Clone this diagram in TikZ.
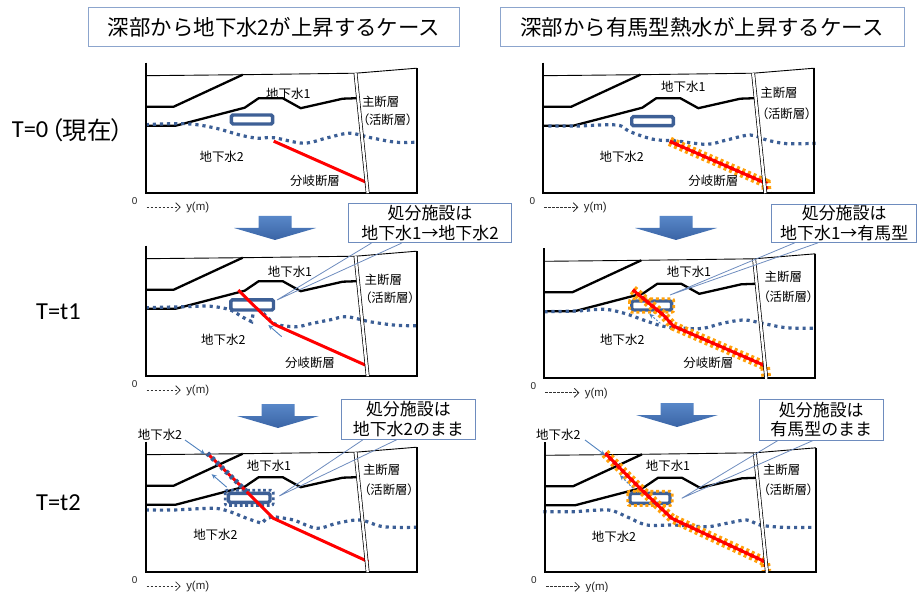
\documentclass[tikz,border=0pt]{standalone}
\usepackage{fontspec}
\usetikzlibrary{arrows.meta,calc}
\newfontfamily\jpfont{Noto Sans CJK JP}
\newfontfamily\jppfont[RawFeature=+palt]{Noto Sans CJK JP}
\newfontfamily\calfont{Carlito}
\newfontfamily\arifont{Liberation Sans}

\definecolor{gwblue}{RGB}{60,95,150}
\definecolor{facblue}{RGB}{62,96,150}
\definecolor{flowblue}{RGB}{79,129,189}
\definecolor{orng}{RGB}{255,160,10}
\definecolor{calloutline}{RGB}{110,140,190}
\definecolor{titleline}{RGB}{140,165,205}
\definecolor{arrtop}{RGB}{88,135,200}
\definecolor{arrbot}{RGB}{58,100,165}

\tikzset{
  surf/.style={draw=black, line width=0.9bp},
  layer/.style={draw=black, line width=2.3bp, line join=round},
  frameline/.style={draw=black, line width=1.8bp},
  mainfault/.style={draw=black, line width=0.7bp, double=white, double distance=2.4bp},
  gwline/.style={draw=gwblue, line width=3.2bp, dash pattern=on 3.2bp off 3.9bp},
  fault/.style={draw=red, line width=3bp, line join=round},
  hotband/.style={draw=orng, line width=3bp, double=red, double distance=3.6bp, dash pattern=on 3bp off 3bp},
  hotring/.style={draw=orng, line width=2.8bp, dash pattern=on 3bp off 2.8bp, rounded corners=2bp},
  gwring/.style={draw=gwblue, line width=2.6bp, dash pattern=on 2.8bp off 2.6bp, rounded corners=2bp},
  fac/.style={draw=facblue, line width=3.4bp, fill=white, rounded corners=1.5bp},
  flow/.style={draw=flowblue, line width=0.9bp, -{Stealth[length=5bp,width=4.5bp]}},
  flowdash/.style={flow, dash pattern=on 2bp off 1.5bp},
  lbl/.style={font=\jpfont\fontsize{12.5}{14}\selectfont, inner sep=0pt},
  lblp/.style={font=\jppfont\fontsize{12.5}{14}\selectfont, inner sep=0pt},
  calloutbox/.style={draw=calloutline, line width=0.9bp, fill=white, align=center, inner sep=0pt,
    font=\jpfont\fontsize{17}{19.5}\selectfont},
  wedge/.style={draw=calloutline, line width=0.8bp},
  titlebox/.style={draw=titleline, line width=1bp, fill=white, inner sep=0pt,
    font=\jpfont\fontsize{21.5}{24}\selectfont},
  rowlabel/.style={font=\calfont\fontsize{24.5}{28}\selectfont, inner sep=0pt},
  axisarrow/.style={draw=black!80, line width=0.8bp, dash pattern=on 2.6bp off 1.4bp,
    -{Straight Barb[length=4.5bp,width=9bp]}},
  axistext/.style={font=\arifont\fontsize{10}{12}\selectfont, inner sep=0pt, text=black!85},
}

% ground surface and the two layer boundaries of a section
\newcommand\gbase{%
  \draw[surf] (0,-117) -- (97,-118) -- (210,-119.5) -- (271,-124.5);
  \draw[layer] (0,-86) -- (28,-86) -- (97,-118);
  \draw[layer] (0,-67) -- (30,-67) -- (99,-85) -- (113,-94.5) -- (137,-94.5)
     -- (155,-84.5) -- (197,-94) -- (211,-94.5);
}
% section frame and main fault
\newcommand\gframe{%
  \draw[frameline] (0,-130) -- (0,0) -- (271,0) -- (271,-124.5);
  \draw[mainfault] (209.8,-119.5) -- (222,0.5);
}
% disposal facility
\newcommand\gfac[4]{\draw[fac] (#1+1.7,#2+1.7) rectangle (#3-1.7,#4-1.7);}
% horizontal axis under a section
\newcommand\gaxis[1]{%
  \node[axistext] (#1-o) at (-11,8) {0};
  \coordinate (#1-a0) at (1,14.5);
  \coordinate (#1-a1) at (35,14.5);
  \draw[axisarrow] (#1-a0) -- (#1-a1);
  \node[axistext, font=\arifont\fontsize{11.5}{13}\selectfont] (#1-y) at (52,15) {y(m)};
}
% block arrow between rows
\newcommand\gbigarrow[2]{%
  \path[top color=arrtop, bottom color=arrbot]
    (#1-16.5,#2) -- (#1+16.5,#2) -- (#1+16.5,#2+12) -- (#1+41,#2+12) -- (#1,#2+24)
    -- (#1-41,#2+12) -- (#1-16.5,#2+12) -- cycle;
}

\begin{document}
\begin{tikzpicture}[x=1bp,y=-1bp]
\useasboundingbox (0,0) rectangle (918,592);

% titles
\node[titlebox, minimum width=370bp, minimum height=39bp] (tl) at (274,27.5) {深部から地下水2が上昇するケース};
\node[titlebox, minimum width=404bp, minimum height=39bp] (tr) at (702,27.5) {深部から有馬型熱水が上昇するケース};

% row labels
\node[rowlabel, anchor=east] (r0) at (48.5,130) {T=0};
\node[rowlabel, anchor=west, font=\jppfont\fontsize{24.5}{28}\selectfont] (r0n) at (50.5,130) {（現在）};
\node[rowlabel] (r1) at (58.5,311.7) {T=t1};
\node[rowlabel] (r2) at (58.5,503) {T=t2};

% ---------- T=0, groundwater 2 ----------
\begin{scope}[shift={(145.7,192.7)}]
  \gbase
  \draw[gwline] plot[smooth,tension=0.55] coordinates {(0,-68) (40,-69) (68,-65) (95,-57.5) (112,-54.5) (128,-55) (158,-49.5) (182,-55) (204,-59.5) (225,-55) (250,-50.5) (271,-50.5)};
  \gfac{84}{-79.4}{128.6}{-67}
  \draw[fault] (128,-51.5) -- (221.5,-10);
  \gframe
  \node[lbl] (p1-gw1) at (142.6,-99.4) {地下水1};
  \node[lbl] (p1-mf) at (235,-91) {主断層};
  \node[lblp] (p1-af) at (242,-72.7) {（活断層）};
  \node[lbl] (p1-gw2) at (76,-36) {地下水2};
  \node[lbl] (p1-bf) at (169.3,-11.7) {分岐断層};
  \gaxis{p1}
\end{scope}

% ---------- T=0, Arima-type hot water ----------
\begin{scope}[shift={(543.3,192.7)}]
  \gbase
  \draw[gwline] plot[smooth,tension=0.55] coordinates {(5,-66.7) (33.4,-66.7) (73.4,-67.7) (86.7,-61) (110,-53.4) (133.4,-51.7) (163.4,-48.4) (183.4,-52.7) (206.7,-57.7) (223.4,-52.7) (243.4,-49) (273.4,-49.4)};
  \gfac{86.7}{-77.7}{131.7}{-65.4}
  \draw[hotband] (126.5,-51.3) -- (222.7,-9.4) -- (223.5,0);
  \draw[fault] (128.4,-50.4) -- (222.7,-9.4);
  \gframe
  \node[lbl] (p2-gw1) at (140,-106) {地下水1};
  \node[lbl] (p2-mf) at (235.7,-99.4) {主断層};
  \node[lblp] (p2-af) at (243.4,-79.4) {（活断層）};
  \node[lbl] (p2-gw2) at (78.4,-36) {地下水2};
  \node[lbl] (p2-bf) at (170,-11.7) {分岐断層};
  \gaxis{p2}
\end{scope}

% ---------- T=t1, groundwater 2 ----------
\begin{scope}[shift={(145.7,375.7)}]
  \gbase
  \draw[gwline] plot[smooth,tension=0.55] coordinates {(0,-68) (40,-69) (64,-69.5) (84,-66) (97,-58.5) (106,-54)} -- (107.6,-63);
  \draw[gwline] (117.6,-62.4) -- plot[smooth,tension=0.55] coordinates {(124,-56) (131,-51) (151,-49) (165,-52) (185,-56) (201,-59) (224,-54) (250,-50.5) (271,-50)};
  \gfac{83.5}{-77.5}{129.5}{-64}
  \draw[fault] (92.6,-85.7) -- (116,-62.4) -- (127.6,-51.7) -- (221,-10);
  \coordinate (p3-fa) at (136,-39);
  \coordinate (p3-fb) at (122.6,-50.7);
  \draw[flow] (p3-fa) -- (p3-fb);
  \gframe
  \node[lbl] (p3-gw1) at (144.3,-104) {地下水1};
  \node[lbl] (p3-mf) at (237.6,-95.7) {主断層};
  \node[lblp] (p3-af) at (244.3,-78.4) {（活断層）};
  \node[lbl] (p3-gw2) at (77.6,-35.7) {地下水2};
  \node[lbl] (p3-bf) at (164.3,-12.4) {分岐断層};
  \gaxis{p3}
\end{scope}

% ---------- T=t1, Arima-type hot water ----------
\begin{scope}[shift={(544.3,378.3)}]
  \gbase
  \draw[gwline] plot[smooth,tension=0.55] coordinates {(0,-66.6) (32,-67.3) (60,-69) (80,-65) (100,-58) (119,-52) (140,-50) (159,-50) (178,-55) (200,-58.3) (218,-55) (242,-50.6) (271,-50)};
  \gfac{85.7}{-79}{129}{-66.6}
  \draw[hotring] (85.2,-79.5) rectangle (129.5,-66.1);
  \draw[hotband] (88.5,-88.5) -- (119,-63.3) -- (129,-52.3) -- (220.7,-12.6) -- (222,-1);
  \draw[fault] (90.7,-86.6) -- (119,-63.3) -- (129,-52.3) -- (220.7,-12.6);
  \coordinate (p4-fa) at (116,-55);
  \coordinate (p4-fb) at (105,-64.5);
  \draw[flowdash] (p4-fa) -- (p4-fb);
  \gframe
  \node[lbl] (p4-gw1) at (144.7,-106.6) {地下水1};
  \node[lbl] (p4-mf) at (239,-101) {主断層};
  \node[lblp] (p4-af) at (244,-81.6) {（活断層）};
  \node[lbl] (p4-gw2) at (78,-38.3) {地下水2};
  \node[lbl] (p4-bf) at (164,-15) {分岐断層};
  \gaxis{p4}
\end{scope}

% ---------- T=t2, groundwater 2 ----------
\begin{scope}[shift={(145.7,571.7)}]
  \gbase
  \draw[gwline] plot[smooth,tension=0.55] coordinates {(0,-61.7) (27.6,-61.7) (67.6,-63.4) (84.3,-60) (101,-53.4) (116,-48.4)} -- (121,-53.4)
     -- plot[smooth,tension=0.55] coordinates {(127.6,-55) (147.6,-51.7) (171,-43.4) (191,-48.4) (214.3,-51.7) (237.6,-45) (271,-44.4)};
  \gfac{81}{-80}{126}{-67.7}
  \draw[gwring] (79.5,-81.5) rectangle (127.5,-66.2);
  \draw[fault] (61.6,-118.4) -- (97.6,-83.4) -- (114.3,-66.7) -- (127.6,-53.4) -- (222.6,-10);
  \draw[gwline, line width=5bp, dash pattern=on 3bp off 3.5bp] (61.6,-118.4) -- (97.6,-83.4) -- (101,-80);
  \coordinate (p5-la) at (39.3,-131.7);
  \coordinate (p5-lb) at (59.3,-117.5);
  \draw[flow] (p5-la) -- (p5-lb);
  \coordinate (p5-fa) at (81,-84.5);
  \coordinate (p5-fb) at (66,-97.5);
  \draw[flow] (p5-fa) -- (p5-fb);
  \gframe
  \node[lbl] (p5-top) at (14.3,-137.4) {地下水2};
  \node[lbl] (p5-gw1) at (123.3,-105.7) {地下水1};
  \node[lbl] (p5-mf) at (236,-101.7) {主断層};
  \node[lblp] (p5-af) at (243.3,-82.4) {（活断層）};
  \node[lbl] (p5-gw2) at (69.7,-36.7) {地下水2};
  \gaxis{p5}
\end{scope}

% ---------- T=t2, Arima-type hot water ----------
\begin{scope}[shift={(545,572.3)}]
  \gbase
  \draw[gwline] plot[smooth,tension=0.55] coordinates {(-1.7,-60.6) (28.3,-60.6) (63.3,-62.3) (81.7,-55.6) (101.7,-47.3) (128.3,-47.3) (161.7,-45.6) (181.7,-49) (201.7,-52.3) (215,-47.3) (238.3,-45) (271,-45)};
  \gfac{83.3}{-80.6}{126.7}{-67.3}
  \draw[hotring] (82.8,-81.1) rectangle (127.2,-66.8);
  \draw[hotband] (60,-119) -- (95,-84) -- (126.7,-54) -- (220,-10.6) -- (221.5,-1);
  \draw[fault] (61,-118.3) -- (95,-84) -- (126.7,-54) -- (220,-10.6);
  \coordinate (p6-la) at (40,-132.3);
  \coordinate (p6-lb) at (60,-117.3);
  \draw[flow] (p6-la) -- (p6-lb);
  \coordinate (p6-fa) at (88,-84);
  \coordinate (p6-fb) at (75,-97);
  \draw[flowdash] (p6-fa) -- (p6-fb);
  \gframe
  \node[lbl] (p6-top) at (13.3,-138) {地下水2};
  \node[lbl] (p6-gw1) at (123,-106.3) {地下水1};
  \node[lbl] (p6-mf) at (236.7,-102.3) {主断層};
  \node[lblp] (p6-af) at (243.3,-83) {（活断層）};
  \node[lbl] (p6-gw2) at (69,-35.6) {地下水2};
  \gaxis{p6}
\end{scope}

% block arrows between rows
\gbigarrow{275}{216}
\gbigarrow{676}{216}
\gbigarrow{278}{404}
\gbigarrow{677}{403}

% callouts
\node[calloutbox, minimum width=163.4bp, minimum height=39.4bp] (c1) at (430,223) {処分施設は\\地下水1→地下水2};
\coordinate (c1-tip) at (277,300);
\draw[wedge] ($(c1.south west)!0.143!(c1.south east)$) -- (c1-tip) -- ($(c1.south west)!0.327!(c1.south east)$);

\node[calloutbox, minimum width=145bp, minimum height=38.3bp] (c2) at (844.2,223.2) {処分施設は\\地下水1→有馬型};
\coordinate (c2-tip) at (670,295);
\draw[wedge] ($(c2.south west)!0.161!(c2.south east)$) -- (c2-tip) -- ($(c2.south west)!0.321!(c2.south east)$);

\node[calloutbox, minimum width=133.3bp, minimum height=40.3bp] (c3) at (408.35,419.15) {処分施設は\\地下水2のまま};
\coordinate (c3-tip) at (279.3,496);
\draw[wedge] ($(c3.south west)!0.162!(c3.south east)$) -- (c3-tip) -- ($(c3.south west)!0.413!(c3.south east)$);

\node[calloutbox, minimum width=124bp, minimum height=41bp] (c4) at (821.3,419.5) {処分施設は\\有馬型のまま};
\coordinate (c4-tip) at (681.7,498.3);
\draw[wedge] ($(c4.south west)!0.153!(c4.south east)$) -- (c4-tip) -- ($(c4.south west)!0.435!(c4.south east)$);

\end{tikzpicture}
\end{document}
